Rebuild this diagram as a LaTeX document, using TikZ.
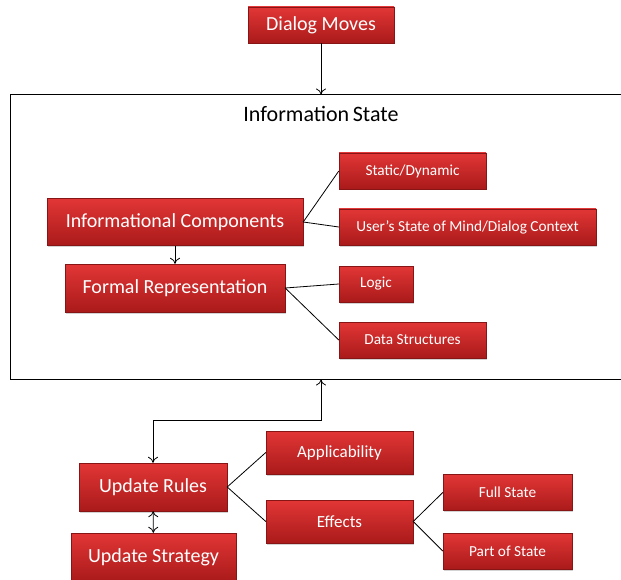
\documentclass[tikz,border=0pt]{standalone}
\usepackage{fontspec}
\setmainfont{Carlito}
\usetikzlibrary{shadows, arrows.meta}
\definecolor{boxtop}{RGB}{226,54,54}
\definecolor{boxbottom}{RGB}{170,26,26}
\begin{document}
\begin{tikzpicture}[
    x=1pt, y=-1pt,
    block/.style={rectangle, draw=boxbottom!80!black, line width=0.4pt, top color=boxtop, bottom color=boxbottom,
        text=white, align=center, inner sep=0pt, drop shadow={shadow xshift=1pt, shadow yshift=-1.5pt, opacity=0.35}},
    big/.style={block, font=\fontsize{20}{22}\selectfont, minimum height=47pt},
    mid/.style={block, font=\fontsize{17}{19}\selectfont, minimum height=43pt, minimum width=147pt},
    small/.style={block, font=\fontsize{15.3}{17}\selectfont, minimum height=36pt},
    line/.style={draw, line width=0.8pt, -{To[length=6pt,width=10pt]}},
    link/.style={draw, line width=0.8pt}
]
    \useasboundingbox (0,0) rectangle (621,580);
    % information state frame
    \node [draw, line width=1pt, minimum width=617pt, minimum height=284pt, inner sep=0pt] (infostate) at (318.5,237) {};
    \node [font=\fontsize{22}{24}\selectfont] (infotitle) at (321,114) {Information\,State};

    \node [big, minimum width=146pt, minimum height=36pt] (dialog) at (321,25) {Dialog Moves};
    \node [big, minimum width=256pt] (infocomp) at (175,222) {Informational Components};
    \node [big, minimum width=220pt, minimum height=48pt] (formal) at (175,288) {Formal Representation};
    \node [small, minimum width=147pt] (static) at (412.5,171) {Static/Dynamic};
    \node [small, minimum width=257pt] (mind) at (467.5,227) {User’s State of Mind/Dialog Context};
    \node [small, minimum width=74pt] (logic) at (376,284) {Logic};
    \node [small, minimum width=147pt] (data) at (412.5,340) {Data Structures};

    \node [big, minimum width=148pt, minimum height=48pt] (rules) at (153,487) {Update Rules};
    \node [big, minimum width=165pt, minimum height=48pt] (strategy) at (153.5,557) {Update Strategy};
    \node [mid] (applic) at (339.5,452.5) {Applicability};
    \node [mid] (effects) at (339.5,521.5) {Effects};
    \node [small, minimum width=129pt] (full) at (507.5,492.5) {Full State};
    \node [small, minimum width=129pt] (part) at (507.5,551) {Part of State};

    \draw [line] (dialog) -- (dialog |- infostate.north);
    \draw [line] (infocomp) -- (formal);
    \draw [link] (infocomp.east) -- (static.west);
    \draw [link] (infocomp.east) -- (mind.west);
    \draw [link] (formal.east) -- (logic.west);
    \draw [link] (formal.east) -- (data.west);

    \draw [line, {To[length=6pt,width=10pt]}-{To[length=6pt,width=10pt]}] (rules.north) -- ++(0,-42) -| (dialog |- infostate.south);
    \draw [line, {To[length=6pt,width=10pt]}-{To[length=6pt,width=10pt]}] (rules) -- (strategy);
    \draw [link] (rules.east) -- (applic.west);
    \draw [link] (rules.east) -- (effects.west);
    \draw [link] (effects.east) -- (full.west);
    \draw [link] (effects.east) -- (part.west);
\end{tikzpicture}
\end{document}
